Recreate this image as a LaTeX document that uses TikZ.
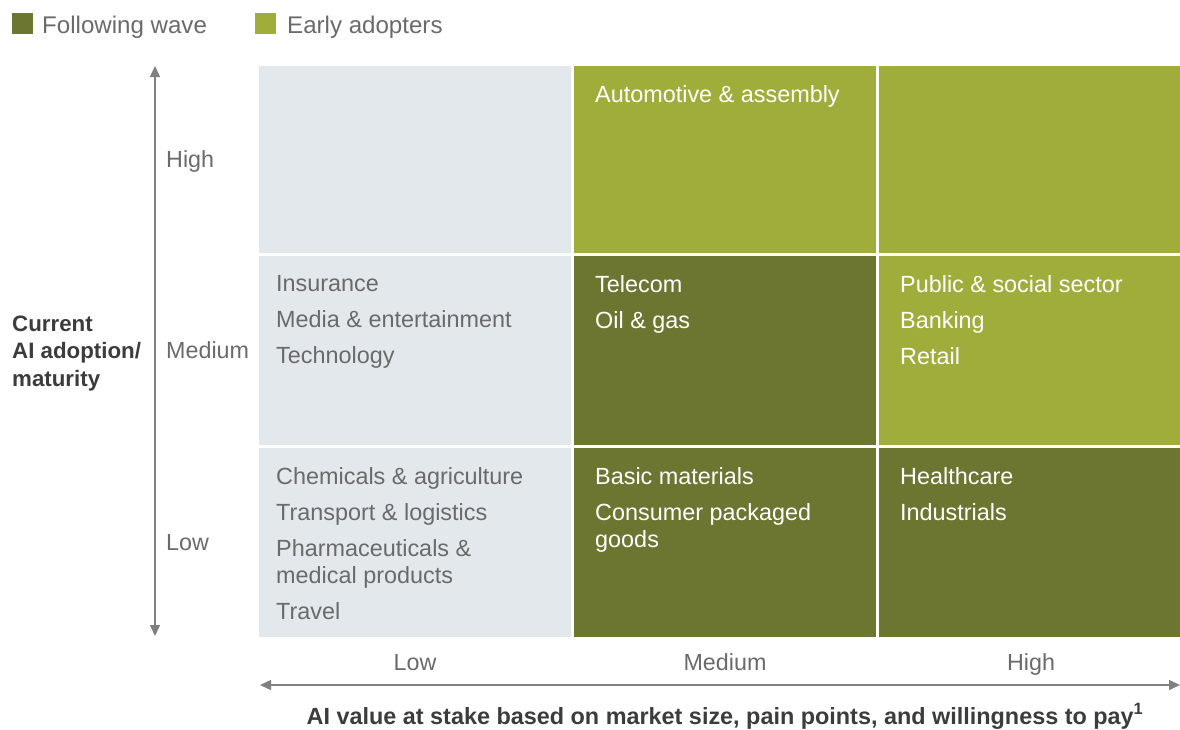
\documentclass[tikz,border=0pt]{standalone}
\usepackage{fontspec}
\setmainfont{Liberation Sans}
\usetikzlibrary{arrows.meta}

\definecolor{fwave}{HTML}{6D7631}
\definecolor{early}{HTML}{A1AD3A}
\definecolor{lowcell}{HTML}{E2E8EB}
\definecolor{labgray}{HTML}{6A6A6A}
\definecolor{axisgray}{HTML}{808080}
\definecolor{titlegray}{HTML}{3C3C3C}

\tikzset{
    cell/.style 2 args={anchor=north west, inner sep=0pt, outer sep=0pt, minimum width=#1, minimum height=#2},
    celltext/.style={anchor=north west, inner sep=0pt, align=left, font=\fontsize{23.4}{36}\selectfont},
    ticklabel/.style={inner sep=0pt, text=labgray, font=\fontsize{23.3}{27}\selectfont},
    legtext/.style={anchor=base west, inner sep=0pt, text=labgray, font=\fontsize{24.1}{27}\selectfont},
    legbox/.style={anchor=north west, inner sep=0pt, minimum size=21pt},
    axisarrow/.style={draw=axisgray, line width=1.4pt, {Triangle[length=11pt,width=10pt]}-{Triangle[length=11pt,width=10pt]}}
}

\begin{document}
\begin{tikzpicture}[x=1pt, y=-1pt]
        \useasboundingbox (0,0) rectangle (1180,729);

        % Legend
        \node[legbox, fill=fwave] (lfw) at (12,13) {};
        \node[legtext] (lfwtext) at (42,33) {Following wave};
        \node[legbox, fill=early] (lea) at (255,13) {};
        \node[legtext] (leatext) at (287,33) {Early adopters};

        % Cells - top row (high adoption)
        \node[cell={312pt}{187pt}, fill=lowcell] (c11) at (259,66) {};
        \node[cell={302pt}{187pt}, fill=early] (c12) at (574,66) {};
        \node[cell={301pt}{187pt}, fill=early] (c13) at (879,66) {};

        % Cells - middle row
        \node[cell={312pt}{189pt}, fill=lowcell] (c21) at (259,256) {};
        \node[cell={302pt}{189pt}, fill=fwave] (c22) at (574,256) {};
        \node[cell={301pt}{189pt}, fill=early] (c23) at (879,256) {};

        % Cells - bottom row (low adoption)
        \node[cell={312pt}{189pt}, fill=lowcell] (c31) at (259,448) {};
        \node[cell={302pt}{189pt}, fill=fwave] (c32) at (574,448) {};
        \node[cell={301pt}{189pt}, fill=fwave] (c33) at (879,448) {};

        % Sector names
        \node[celltext, text=white] (t12) at ([shift={(21,19)}]c12.north west) {Automotive \& assembly};
        \node[celltext, text=labgray] (t21) at ([shift={(17,19)}]c21.north west) {Insurance\\Media \& entertainment\\Technology};
        \node[celltext, text=white] (t22) at ([shift={(21,19)}]c22.north west) {Telecom\\Oil \& gas};
        \node[celltext, text=white] (t23) at ([shift={(21,19)}]c23.north west) {Public \& social sector\\Banking\\Retail};
        \node[celltext, text=labgray] (t31) at ([shift={(17,19)}]c31.north west) {Chemicals \& agriculture\\Transport \& logistics\\Pharmaceuticals \&\\[-9pt]medical products\\Travel};
        \node[celltext, text=white] (t32) at ([shift={(21,19)}]c32.north west) {Basic materials\\Consumer packaged\\[-9pt]goods};
        \node[celltext, text=white] (t33) at ([shift={(21,19)}]c33.north west) {Healthcare\\Industrials};

        % Vertical axis
        \coordinate (ytop) at (155,66);
        \coordinate (ybot) at (155,636);
        \draw[axisarrow] (ybot) -- (ytop);
        \node[ticklabel, anchor=base west] (yhigh) at (166,167) {High};
        \node[ticklabel, anchor=base west] (ymed) at (166,358) {Medium};
        \node[ticklabel, anchor=base west] (ylow) at (166,550) {Low};
        % base of a multi-line node sits on its last line
        \node[anchor=base west, inner sep=0pt, align=left, text=titlegray, font=\fontsize{22.3}{27.5}\selectfont\bfseries] (ytitle) at (12,386) {Current\\AI adoption/\\maturity};

        % Horizontal axis
        \coordinate (xleft) at (260,685);
        \coordinate (xright) at (1180,685);
        \draw[axisarrow] (xleft) -- (xright);
        \node[ticklabel, anchor=base] (xlow) at (415,670) {Low};
        \node[ticklabel, anchor=base] (xmed) at (725,670) {Medium};
        \node[ticklabel, anchor=base] (xhigh) at (1031,670) {High};
        \node[anchor=base, inner sep=0pt, text=titlegray, font=\fontsize{23.4}{26}\selectfont\bfseries] (xtitle) at (725,724) {AI value at stake based on market size, pain points, and willingness to pay\textsuperscript{1}};
\end{tikzpicture}
\end{document}
